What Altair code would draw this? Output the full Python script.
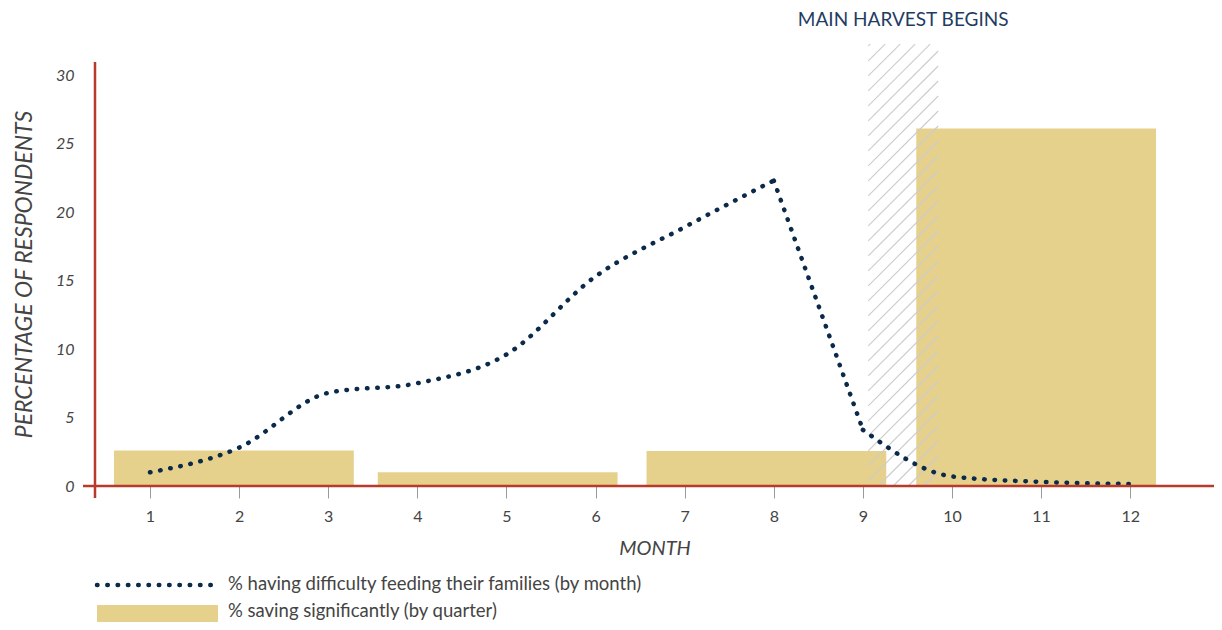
import altair as alt
import pandas as pd

# ---- data ----
MONTHS = [1, 2, 3, 4, 5, 6, 7, 8, 9, 10, 11, 12]
DIFFICULTY = [1.0, 2.8, 6.8, 7.5, 9.6, 15.3, 18.9, 22.3, 4.1, 0.7, 0.3, 0.15]
BREAKS = [0, 7, 8, 11]  # curve has corners at month 8 and month 9

QUARTER_START = [0.596, 3.556, 6.572, 9.599]
QUARTER_END = [3.287, 6.247, 9.262, 12.289]
SAVING = [2.6, 1.0, 2.55, 26.1]

HARVEST_START = 9.06
HARVEST_END = 9.845
HARVEST_TOP = 32.26
HARVEST_LABEL = "MAIN HARVEST BEGINS"

X_TICKS = MONTHS
Y_TICKS = [0, 5, 10, 15, 20, 25, 30]
X_DOMAIN = [0.383, 12.94]
Y_DOMAIN = [0, 30.95]

LEGEND_LABELS = [
    "% having difficulty feeding their families (by month)",
    "% saving significantly (by quarter)",
]

# ---- styling ----
W, H = 1119, 424
FONT = "Lato"
NAVY = "#0b2a4a"
GOLD = "#e5d18b"
AXIS_RED = "#b83a2b"
TEXT = "#444444"

parts = []
for i in range(len(BREAKS) - 1):
    s, e = BREAKS[i], BREAKS[i + 1]
    parts.append(pd.DataFrame({"month": MONTHS[s:e + 1],
                               "value": DIFFICULTY[s:e + 1], "seg": str(i)}))
line_df = pd.concat(parts, ignore_index=True)
bar_df = pd.DataFrame({"start": QUARTER_START, "end": QUARTER_END, "value": SAVING})

xs = alt.Scale(domain=X_DOMAIN, nice=False, zero=False)
ys = alt.Scale(domain=Y_DOMAIN, nice=False, zero=False)

# hatch segments derived from the harvest box
ppm = W / (X_DOMAIN[1] - X_DOMAIN[0])
ppu = H / (Y_DOMAIN[1] - Y_DOMAIN[0])
bw = (HARVEST_END - HARVEST_START) * ppm
bh = HARVEST_TOP * ppu
segs = []
c = -bw
step = 15.0
while c < bh:
    a = max(0.0, -c)
    b = min(bw, bh - c)
    if b > a:
        segs.append({
            "x": HARVEST_START + a / ppm, "y": (a + c) / ppu,
            "x2": HARVEST_START + b / ppm, "y2": (b + c) / ppu,
        })
    c += step
hatch_df = pd.DataFrame(segs)

bars = alt.Chart(bar_df).mark_rect(color=GOLD).encode(
    x=alt.X("start:Q", scale=xs,
            axis=alt.Axis(values=X_TICKS, format="d", title="MONTH", grid=False, domain=False,
                          tickColor="#9a9a9a", tickSize=12, tickWidth=1,
                          labelFont=FONT, labelFontSize=16, labelColor=TEXT,
                          labelPadding=10, titleFont=FONT, titleFontSize=20,
                          titleFontStyle="italic", titleFontWeight="normal",
                          titleColor=TEXT, titlePadding=14)),
    x2="end:Q",
    y=alt.Y("value:Q", scale=ys,
            axis=alt.Axis(values=Y_TICKS, title="PERCENTAGE OF RESPONDENTS", grid=False,
                          domain=False, ticks=False, labelFont=FONT, labelFontSize=16,
                          labelFontStyle="italic", labelColor=TEXT, labelPadding=21,
                          titleFont=FONT, titleFontSize=23, titleFontStyle="italic",
                          titleFontWeight="normal", titleColor=TEXT, titlePadding=19)),
    y2=alt.datum(0),
)

hatch = alt.Chart(hatch_df).mark_rule(color="#cccccc", strokeWidth=1.1).encode(
    x=alt.X("x:Q", scale=xs), y=alt.Y("y:Q", scale=ys), x2="x2:Q", y2="y2:Q"
)

line = alt.Chart(line_df).mark_line(
    color=NAVY, strokeWidth=4.5, strokeDash=[0.5, 9.8], strokeCap="round",
    interpolate="monotone",
).encode(x=alt.X("month:Q", scale=xs), y=alt.Y("value:Q", scale=ys), detail="seg:N")

one = pd.DataFrame({"k": [0]})

x_axis_line = alt.Chart(one).mark_rule(color=AXIS_RED, strokeWidth=2.5).encode(
    x=alt.value(-12), x2=alt.value(W), y=alt.value(H)
)
y_axis_line = alt.Chart(one).mark_rule(color=AXIS_RED, strokeWidth=2.5).encode(
    x=alt.value(0), y=alt.value(0), y2=alt.value(H + 12)
)

label_df = pd.DataFrame({"x": [(HARVEST_START + HARVEST_END) / 2], "t": [HARVEST_LABEL]})
harvest_label = alt.Chart(label_df).mark_text(
    font=FONT, fontSize=19, color="#1f3d5f", baseline="middle", align="center"
).encode(x=alt.X("x:Q", scale=xs), y=alt.value(-42), text="t:N")

leg1_line = alt.Chart(one).mark_rule(
    color=NAVY, strokeWidth=4.5, strokeDash=[0.5, 9.8], strokeCap="round"
).encode(x=alt.value(2), x2=alt.value(123), y=alt.value(523))
leg2_rect = alt.Chart(one).mark_rect(color=GOLD).encode(
    x=alt.value(2), x2=alt.value(123), y=alt.value(543), y2=alt.value(560)
)
leg_df = pd.DataFrame({"t": LEGEND_LABELS, "yy": [522, 549]})
leg_text = alt.Chart(leg_df).mark_text(
    font=FONT, fontSize=18.5, color=TEXT, align="left", baseline="middle"
).encode(x=alt.value(133), y=alt.Y("yy:Q", scale=None), text="t:N")

chart = alt.layer(
    bars, hatch, line, x_axis_line, y_axis_line, harvest_label,
    leg1_line, leg2_rect, leg_text,
).properties(
    width=W, height=H,
    background="white",
    autosize=alt.AutoSizeParams(type="none"),
    padding={"left": 87, "top": 54, "right": 0, "bottom": 136},
).configure_view(strokeWidth=0, stroke=None)

chart.save("out.html", embed_options={"renderer": "svg", "actions": False})
